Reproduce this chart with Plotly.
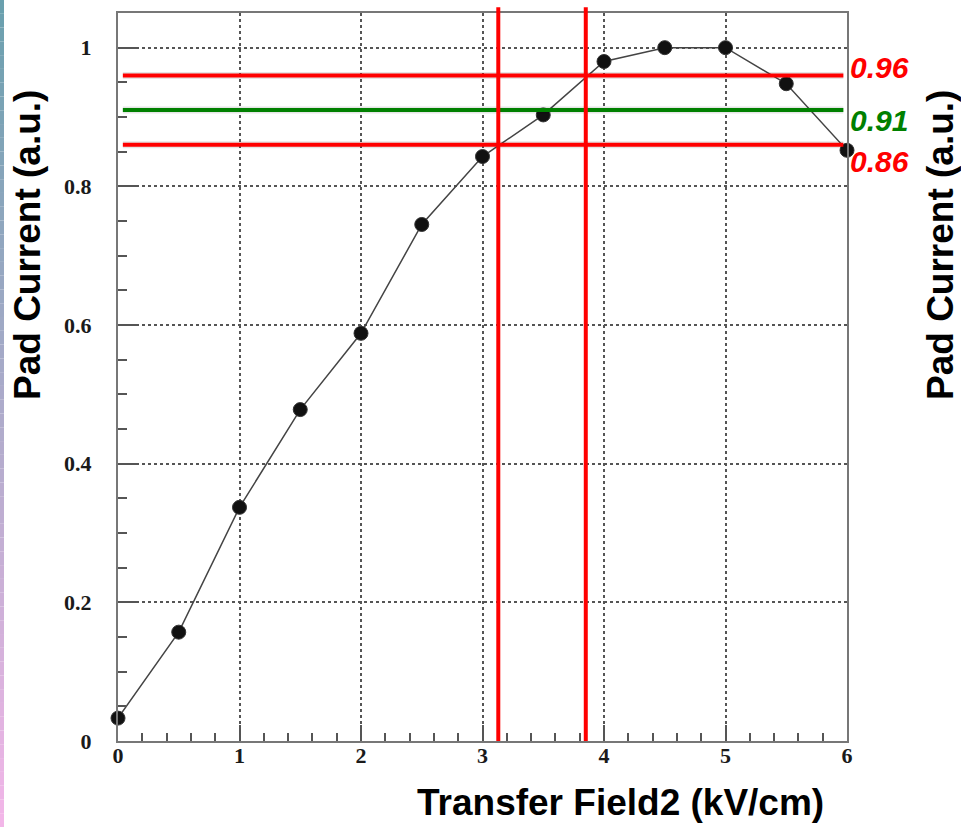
import plotly.graph_objects as go

# Transfer field scan of the pad current
field_kv_cm = [0.0, 0.5, 1.0, 1.5, 2.0, 2.5, 3.0, 3.5, 4.0, 4.5, 5.0, 5.5, 6.0]
pad_current = [0.033, 0.157, 0.337, 0.478, 0.588, 0.745, 0.843, 0.903, 0.980, 1.000, 1.000, 0.948, 0.852]

# Reference current levels and the field values where the curve crosses them
level_values = [0.96, 0.91, 0.86]
level_colors = ["#ff0000", "#008000", "#ff0000"]
level_text_shift = [8, -10, -17]
cut_fields = [3.13, 3.85]

x_ticks = [0, 1, 2, 3, 4, 5, 6]
y_ticks = [0, 0.2, 0.4, 0.6, 0.8, 1.0]
y_tick_text = ["0", "0.2", "0.4", "0.6", "0.8", "1"]

fig = go.Figure()

fig.add_trace(go.Scatter(
    x=field_kv_cm, y=pad_current, mode="lines+markers",
    line=dict(color="#444444", width=1.5),
    marker=dict(color="#111111", size=14, line=dict(color="#333333", width=1)),
    showlegend=False, cliponaxis=False,
))

shapes = []
# soft vertical gradient strip along the left edge
n_strip = 60
top_rgb = (106, 160, 174)
bot_rgb = (242, 182, 232)
for i in range(n_strip):
    t = i / (n_strip - 1)
    r = round(top_rgb[0] + (bot_rgb[0] - top_rgb[0]) * t)
    g = round(top_rgb[1] + (bot_rgb[1] - top_rgb[1]) * t)
    b = round(top_rgb[2] + (bot_rgb[2] - top_rgb[2]) * t)
    y_top = 1 - i / n_strip
    y_bot = 1 - (i + 1) / n_strip
    shapes.append(dict(
        type="rect", xref="paper", yref="paper",
        x0=-118 / 729, x1=-114 / 729,
        y0=-86 / 728 + y_bot * (827 / 728), y1=-86 / 728 + y_top * (827 / 728),
        fillcolor=f"rgb({r},{g},{b})", line=dict(width=0), layer="above",
    ))

for v, c in zip(level_values, level_colors):
    # faint shadow under each level line
    shapes.append(dict(type="line", xref="x", yref="y", x0=0.04, x1=5.97, y0=v, y1=v,
                       line=dict(color="rgba(0,0,0,0.10)", width=7), layer="above"))
    shapes.append(dict(type="line", xref="x", yref="y", x0=0.04, x1=5.97, y0=v, y1=v,
                       line=dict(color=c, width=4), layer="above"))

for xv in cut_fields:
    shapes.append(dict(type="line", xref="x", yref="paper", x0=xv, x1=xv, y0=0, y1=1.008,
                       line=dict(color="#ff0000", width=4), layer="above"))

annotations = []
for v, c, s in zip(level_values, level_colors, level_text_shift):
    annotations.append(dict(
        x=6, y=v, xref="x", yref="y", xanchor="left", yanchor="middle",
        xshift=1, yshift=s, text=f"{v:.2f}", showarrow=False,
        font=dict(family="Liberation Sans", size=30, color=c, weight="bold", style="italic"),
    ))

title_font = dict(family="Liberation Sans", size=37, color="black", weight="bold")
annotations.append(dict(text="Pad Current (a.u.)", xref="paper", yref="paper",
                        x=-90 / 729, y=(741 - 245) / 728, xanchor="center", yanchor="middle",
                        textangle=-90, showarrow=False, font=title_font))
annotations.append(dict(text="Pad Current (a.u.)", xref="paper", yref="paper",
                        x=(941 - 118) / 729, y=(741 - 245) / 728, xanchor="center", yanchor="middle",
                        textangle=-90, showarrow=False, font=title_font))
annotations.append(dict(text="Transfer Field2 (kV/cm)", xref="paper", yref="paper",
                        x=(620 - 118) / 729, y=-(803 - 741) / 728, xanchor="center", yanchor="middle",
                        showarrow=False, font=dict(family="Liberation Sans", size=37, color="black", weight="bold")))

tick_font = dict(family="Liberation Serif", size=22, color="#1a1a1a", weight="bold")
grid = dict(showgrid=True, gridcolor="#555555", griddash="dot", gridwidth=1.5)

fig.update_layout(
    width=961, height=827,
    margin=dict(l=118, r=114, t=13, b=86),
    paper_bgcolor="white", plot_bgcolor="white",
    shapes=shapes, annotations=annotations,
    xaxis=dict(range=[0, 6], tickvals=x_ticks, ticks="inside", ticklen=16, tickwidth=1.5,
               tickcolor="#555555", showline=True, linecolor="#777777", linewidth=2, mirror=True,
               tickfont=tick_font, zeroline=False, ticklabelstandoff=-6,
               minor=dict(dtick=0.2, ticks="inside", ticklen=8, tickcolor="#555555", tickwidth=1.5, showgrid=False),
               **grid),
    yaxis=dict(range=[0, 1.05], tickvals=y_ticks, ticktext=y_tick_text, ticks="inside", ticklen=19,
               tickwidth=1.5, tickcolor="#555555", showline=True, linecolor="#777777", linewidth=2,
               mirror=True, tickfont=tick_font, zeroline=False, ticklabelstandoff=20,
               minor=dict(dtick=0.05, ticks="inside", ticklen=9, tickcolor="#555555", tickwidth=1.5, showgrid=False),
               **grid),
)

fig.write_html("out.html")
